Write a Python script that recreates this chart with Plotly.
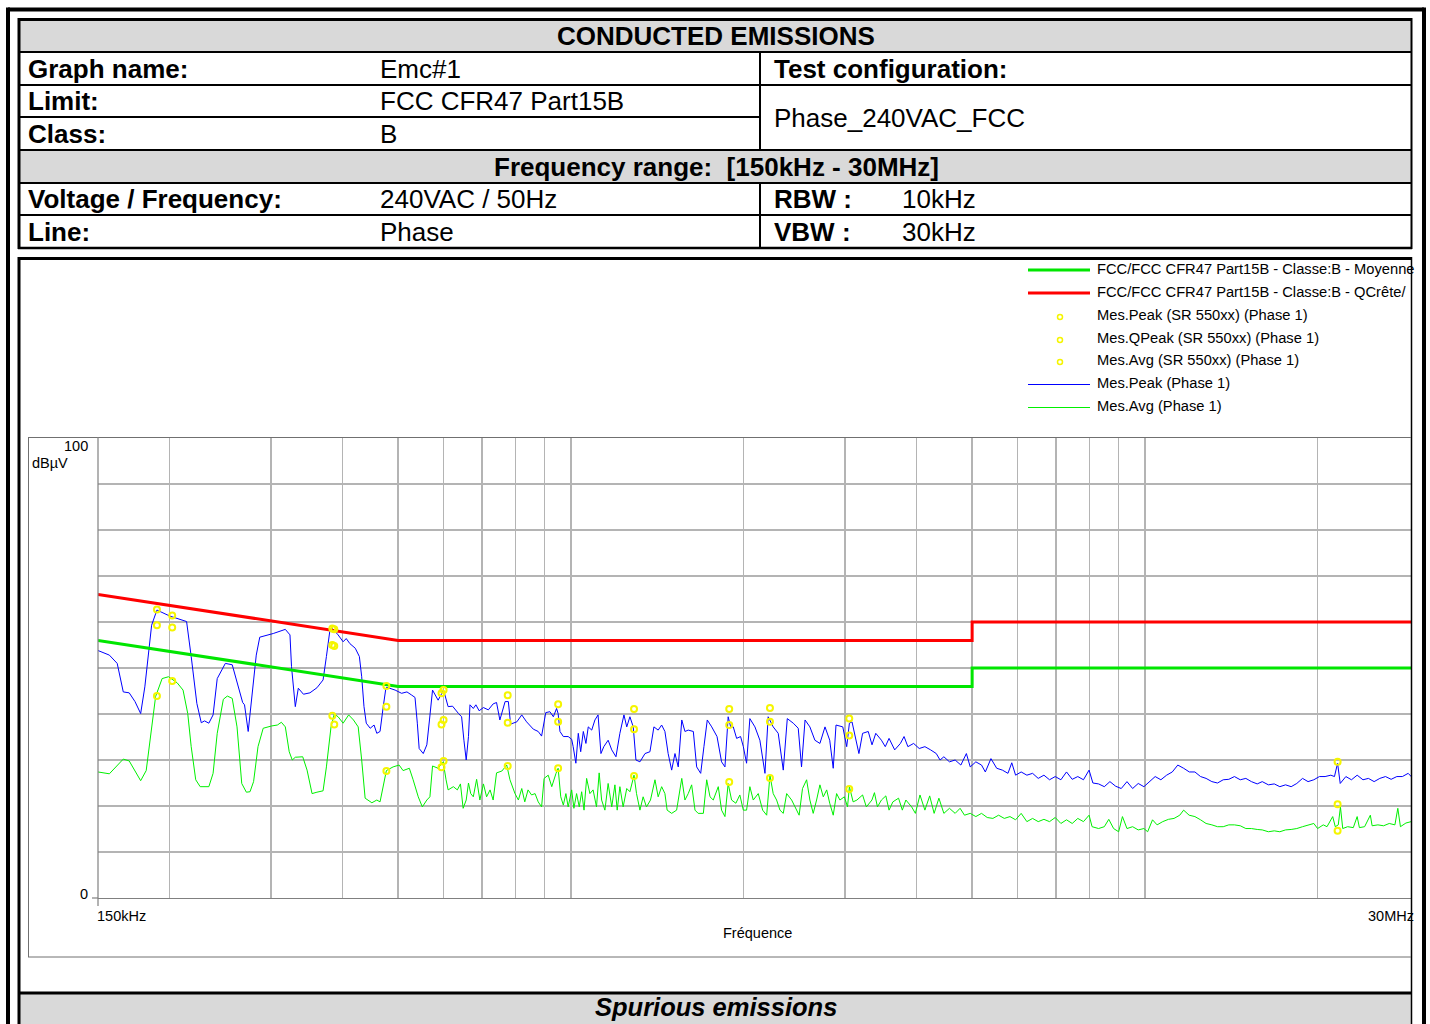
import math
import plotly.graph_objects as go

W, H = 1430, 1024

# ---------------- data ----------------
limit_freq_mhz = [0.15, 0.5, 5.0, 5.0, 30.0]
qp_limit_dbuv = [66, 56, 56, 60, 60]
avg_limit_dbuv = [56, 46, 46, 50, 50]

peak_freq_mhz = [0.150, 0.157, 0.162, 0.166, 0.170, 0.174, 0.178, 0.181, 0.186, 0.190, 0.200, 0.214, 0.218, 0.223, 0.227, 0.230, 0.234, 0.238, 0.242, 0.250,
                 0.257, 0.263, 0.268, 0.270, 0.274, 0.283, 0.287, 0.303, 0.318, 0.324, 0.326, 0.331, 0.335, 0.342, 0.351, 0.361, 0.370, 0.375, 0.380, 0.384,
                 0.393, 0.401, 0.406, 0.412, 0.421, 0.428, 0.432, 0.436, 0.440, 0.447, 0.454, 0.459, 0.465, 0.471, 0.476, 0.478, 0.494, 0.507, 0.518, 0.528,
                 0.535, 0.540, 0.544, 0.553, 0.561, 0.567, 0.574, 0.587, 0.600, 0.611, 0.622, 0.637, 0.645, 0.651, 0.657, 0.663, 0.667, 0.676, 0.683, 0.692,
                 0.704, 0.718, 0.732, 0.742, 0.752, 0.768, 0.778, 0.785, 0.805, 0.821, 0.837, 0.860, 0.877, 0.889, 0.904, 0.919, 0.932, 0.944, 0.950, 0.957,
                 0.970, 0.989, 1.003, 1.009, 1.020, 1.030, 1.040, 1.051, 1.062, 1.072, 1.087, 1.101, 1.115, 1.128, 1.141, 1.161, 1.178, 1.198, 1.217, 1.237,
                 1.251, 1.267, 1.284, 1.298, 1.319, 1.346, 1.373, 1.395, 1.419, 1.439, 1.458, 1.477, 1.498, 1.518, 1.538, 1.560, 1.580, 1.601, 1.634, 1.656,
                 1.683, 1.705, 1.728, 1.759, 1.797, 1.830, 1.855, 1.879, 1.898, 1.918, 1.944, 1.975, 1.997, 2.023, 2.050, 2.092, 2.134, 2.178, 2.206, 2.251,
                 2.297, 2.344, 2.382, 2.440, 2.489, 2.522, 2.558, 2.608, 2.661, 2.715, 2.771, 2.824, 2.864, 2.896, 2.976, 3.023, 3.056, 3.088, 3.125, 3.175,
                 3.222, 3.296, 3.346, 3.397, 3.475, 3.529, 3.583, 3.665, 3.750, 3.805, 3.864, 3.954, 4.044, 4.137, 4.233, 4.330, 4.396, 4.464, 4.565, 4.671,
                 4.779, 4.886, 4.962, 5.075, 5.192, 5.272, 5.392, 5.518, 5.645, 5.773, 5.862, 5.952, 6.087, 6.228, 6.372, 6.518, 6.669, 6.820, 6.978, 7.138,
                 7.301, 7.470, 7.639, 7.815, 7.993, 8.116, 8.304, 8.497, 8.690, 8.892, 9.094, 9.305, 9.519, 9.735, 9.960, 10.19, 10.42, 10.66, 10.91, 11.16,
                 11.41, 11.68, 11.95, 12.22, 12.50, 12.78, 13.08, 13.38, 13.69, 14.00, 14.32, 14.66, 14.99, 15.33, 15.69, 16.01, 16.41, 16.80, 17.18, 17.58,
                 17.98, 18.39, 18.82, 19.24, 19.69, 20.14, 20.60, 21.08, 21.39, 21.66, 21.89, 22.39, 22.90, 23.43, 23.98, 24.51, 25.08, 25.66, 26.25, 26.85,
                 27.47, 28.09, 28.75, 29.31]
peak_dbuv = [53.8, 52.8, 51.0, 44.8, 44.6, 42.7, 40.1, 45.9, 59.3, 62.6, 61.3, 60.1, 52.5, 42.3, 38.1, 38.5, 38.0, 39.8, 47.7, 51.0,
             50.7, 45.9, 42.5, 42.0, 36.2, 52.8, 56.7, 57.5, 58.4, 57.2, 50.3, 41.6, 45.6, 44.3, 44.6, 45.7, 47.4, 52.5, 57.9, 58.6,
             57.2, 55.7, 56.4, 55.3, 54.3, 52.5, 48.1, 41.6, 38.0, 36.9, 37.6, 35.8, 36.2, 41.6, 45.6, 45.8, 45.2, 44.5, 44.8, 44.1,
             43.6, 38.0, 32.5, 31.4, 33.3, 38.7, 45.2, 43.0, 45.2, 41.6, 41.7, 40.1, 39.4, 34.3, 30.0, 35.1, 42.0, 41.2, 42.0, 40.7,
             41.4, 40.9, 42.2, 42.5, 38.7, 42.7, 42.7, 37.8, 38.3, 39.8, 38.3, 36.7, 36.2, 35.2, 40.3, 40.5, 39.4, 41.2, 40.1, 36.2,
             35.1, 35.1, 34.5, 32.9, 29.3, 35.8, 31.8, 36.2, 33.6, 37.2, 36.5, 38.7, 39.8, 31.4, 32.9, 34.3, 32.2, 30.7, 35.8, 39.8,
             37.2, 39.4, 37.2, 30.0, 29.6, 31.4, 31.8, 37.2, 36.5, 37.6, 36.2, 31.4, 27.8, 31.4, 28.5, 38.7, 36.2, 36.5, 36.2, 28.5,
             27.1, 32.9, 38.7, 37.2, 35.1, 29.6, 28.5, 39.4, 37.2, 37.2, 34.7, 35.1, 32.9, 29.3, 39.0, 37.2, 34.3, 27.1, 39.4, 37.2,
             35.8, 27.8, 39.0, 38.0, 36.9, 28.5, 38.7, 37.2, 34.3, 33.6, 37.2, 34.3, 28.2, 37.6, 37.2, 32.9, 38.0, 38.3, 35.1, 31.4,
             35.8, 36.2, 33.3, 35.8, 34.3, 32.9, 34.7, 32.2, 33.6, 35.1, 32.9, 33.6, 32.5, 32.9, 32.2, 31.4, 30.0, 30.7, 29.6, 30.0,
             28.9, 31.4, 28.5, 29.6, 28.9, 27.4, 30.3, 28.2, 27.8, 27.1, 29.4, 26.7, 27.4, 26.7, 27.1, 26.0, 26.7, 25.7, 26.4, 25.7,
             27.4, 25.8, 26.4, 25.7, 27.8, 25.0, 24.8, 24.2, 25.3, 24.3, 23.8, 25.3, 23.8, 24.9, 24.2, 25.3, 26.4, 25.7, 26.7, 27.4,
             28.9, 28.2, 27.4, 27.4, 26.4, 26.0, 25.3, 25.0, 25.7, 25.8, 26.4, 25.7, 26.0, 25.3, 24.8, 25.3, 24.6, 24.8, 24.2, 24.6,
             24.2, 24.9, 26.0, 25.3, 25.7, 26.4, 26.4, 26.7, 26.4, 29.3, 24.9, 26.4, 25.7, 26.7, 25.7, 26.0, 25.3, 26.0, 26.4, 25.8,
             26.4, 26.4, 27.1, 26.0]

avg_freq_mhz = [0.150, 0.157, 0.166, 0.170, 0.178, 0.182, 0.189, 0.194, 0.199, 0.206, 0.211, 0.215, 0.218, 0.222, 0.226, 0.234, 0.238, 0.242, 0.248, 0.252,
                0.257, 0.262, 0.267, 0.272, 0.276, 0.280, 0.285, 0.291, 0.301, 0.308, 0.313, 0.318, 0.323, 0.327, 0.331, 0.341, 0.347, 0.354, 0.361, 0.370,
                0.375, 0.382, 0.387, 0.393, 0.401, 0.410, 0.418, 0.426, 0.432, 0.438, 0.450, 0.459, 0.465, 0.471, 0.477, 0.490, 0.502, 0.510, 0.523, 0.531,
                0.542, 0.551, 0.561, 0.568, 0.574, 0.587, 0.599, 0.606, 0.611, 0.624, 0.634, 0.642, 0.649, 0.657, 0.663, 0.669, 0.676, 0.685, 0.694, 0.704,
                0.713, 0.723, 0.732, 0.742, 0.758, 0.773, 0.783, 0.799, 0.810, 0.821, 0.831, 0.842, 0.854, 0.866, 0.877, 0.889, 0.898, 0.913, 0.926, 0.942,
                0.950, 0.960, 0.970, 0.980, 0.989, 1.003, 1.012, 1.023, 1.034, 1.044, 1.054, 1.065, 1.079, 1.093, 1.108, 1.120, 1.131, 1.146, 1.161, 1.178,
                1.193, 1.204, 1.217, 1.233, 1.251, 1.267, 1.288, 1.301, 1.319, 1.336, 1.354, 1.376, 1.401, 1.419, 1.439, 1.458, 1.471, 1.498, 1.528, 1.560,
                1.580, 1.601, 1.623, 1.645, 1.666, 1.701, 1.724, 1.747, 1.770, 1.806, 1.830, 1.855, 1.879, 1.905, 1.938, 1.969, 1.997, 2.023, 2.050, 2.078,
                2.120, 2.158, 2.193, 2.222, 2.251, 2.282, 2.313, 2.344, 2.376, 2.424, 2.473, 2.498, 2.532, 2.574, 2.608, 2.643, 2.679, 2.715, 2.752, 2.790,
                2.824, 2.864, 2.903, 2.942, 2.995, 3.033, 3.056, 3.102, 3.150, 3.222, 3.271, 3.345, 3.379, 3.420, 3.475, 3.537, 3.583, 3.638, 3.722, 3.779,
                3.833, 3.923, 3.982, 4.056, 4.137, 4.217, 4.293, 4.376, 4.464, 4.565, 4.671, 4.764, 4.849, 4.962, 5.075, 5.192, 5.312, 5.434, 5.560, 5.689,
                5.820, 5.952, 6.087, 6.228, 6.372, 6.518, 6.669, 6.820, 6.978, 7.138, 7.301, 7.470, 7.639, 7.815, 7.993, 8.090, 8.304, 8.497, 8.650, 8.820,
                9.000, 9.138, 9.305, 9.519, 9.735, 9.960, 10.11, 10.31, 10.50, 10.74, 10.99, 11.24, 11.50, 11.68, 11.94, 12.22, 12.50, 12.78, 13.08, 13.38,
                13.69, 14.00, 14.32, 14.66, 14.99, 15.33, 15.69, 16.01, 16.41, 16.80, 17.18, 17.58, 17.98, 18.39, 18.82, 19.24, 19.69, 19.99, 20.45, 20.76,
                21.24, 21.46, 21.72, 21.91, 22.11, 22.55, 23.07, 23.43, 23.64, 24.14, 24.70, 24.88, 25.46, 26.05, 26.65, 27.26, 27.58, 27.87, 28.49, 29.10]
avg_dbuv = [27.4, 27.0, 30.2, 29.8, 25.5, 27.7, 43.8, 47.7, 48.1, 46.8, 45.2, 40.1, 32.9, 25.7, 24.2, 24.2, 27.1, 35.8, 43.2, 43.9,
            43.4, 37.2, 24.9, 23.0, 23.1, 25.3, 32.9, 36.9, 37.4, 37.6, 38.2, 37.2, 31.8, 30.0, 30.6, 30.7, 27.8, 22.7, 23.0, 23.3,
            28.5, 37.2, 40.0, 39.4, 38.0, 39.8, 38.7, 37.2, 30.0, 21.7, 20.7, 21.3, 20.9, 24.2, 27.7, 28.5, 28.9, 27.7, 28.2, 25.7,
            22.0, 19.8, 21.3, 22.0, 28.7, 28.2, 29.6, 25.7, 23.5, 24.2, 23.5, 24.8, 19.5, 21.3, 25.0, 22.7, 22.0, 25.8, 21.3, 24.8,
            22.0, 23.5, 21.3, 27.2, 27.6, 28.9, 25.7, 22.7, 21.3, 23.8, 20.9, 23.5, 22.4, 22.7, 20.9, 19.8, 26.0, 26.7, 24.2, 27.1,
            28.2, 22.0, 20.2, 22.7, 19.8, 23.5, 19.5, 22.7, 19.8, 23.1, 19.1, 26.0, 22.7, 23.5, 19.8, 27.2, 21.3, 19.1, 24.9, 19.8,
            24.6, 19.1, 24.2, 19.8, 23.8, 23.1, 26.7, 22.7, 19.1, 22.0, 19.8, 21.3, 25.7, 22.0, 24.2, 22.7, 19.1, 18.4, 19.1, 26.0,
            21.3, 22.7, 24.6, 19.1, 18.4, 18.4, 25.7, 22.0, 21.3, 24.2, 19.1, 17.7, 24.9, 21.3, 20.6, 22.4, 19.1, 19.1, 24.2, 21.3,
            22.7, 19.1, 18.0, 26.7, 22.7, 21.3, 19.1, 18.4, 22.7, 21.3, 19.1, 18.0, 23.8, 25.7, 21.3, 18.4, 21.3, 24.6, 22.0, 23.5,
            20.6, 18.0, 22.7, 21.3, 22.0, 19.8, 24.2, 20.9, 21.3, 22.4, 19.8, 21.3, 22.9, 19.8, 21.3, 22.2, 19.1, 20.9, 21.7, 19.1,
            21.3, 19.8, 18.4, 22.4, 19.1, 22.2, 18.4, 21.7, 18.4, 19.5, 18.4, 19.5, 18.0, 18.4, 17.7, 18.4, 17.5, 17.3, 18.0, 17.3,
            17.7, 17.0, 18.4, 16.6, 17.3, 16.6, 17.1, 16.6, 17.5, 16.2, 17.0, 16.2, 17.3, 16.6, 18.0, 15.5, 15.1, 15.5, 17.1, 15.1,
            14.4, 17.7, 15.1, 15.5, 14.8, 15.1, 14.4, 17.0, 15.9, 16.6, 17.1, 17.3, 18.0, 19.1, 18.0, 17.7, 17.0, 16.2, 15.9, 15.5,
            15.5, 15.9, 15.9, 15.7, 15.1, 15.1, 14.9, 14.8, 14.4, 14.6, 14.4, 14.8, 14.9, 15.1, 15.5, 15.9, 16.2, 15.1, 15.9, 15.5,
            17.7, 15.5, 15.9, 19.8, 15.1, 15.5, 15.3, 17.7, 15.3, 15.5, 18.0, 15.7, 15.9, 15.7, 16.2, 15.9, 19.5, 15.5, 16.3, 16.6]

mk_freq_mhz = [0.190, 0.202, 0.384, 0.387, 0.477, 0.595, 0.600, 0.776, 0.950, 1.288, 1.887, 2.222, 3.054, 21.66]
mk_peak_dbuv = [62.7, 61.4, 58.6, 58.4, 46.1, 44.5, 45.2, 44.1, 42.1, 41.1, 41.1, 41.3, 39.0, 29.6]
mk_qpeak_dbuv = [59.3, 58.8, 55.0, 54.8, 41.6, 37.7, 38.7, 38.1, 38.3, 36.7, 37.6, 38.3, 35.3, 20.4]
mk_avg_dbuv = [43.9, 47.2, 39.6, 37.7, 27.6, 28.4, 29.8, 28.7, 28.2, 26.5, 25.2, 26.1, 23.7, 14.6]

x_grid_mhz = [0.2, 0.3, 0.4, 0.5, 0.6, 0.7, 0.8, 0.9, 1, 2, 3, 4, 5, 6, 7, 8, 9, 10, 20]
y_grid_dbuv = [10, 20, 30, 40, 50, 60, 70, 80, 90, 100]

legend_labels = ["FCC/FCC CFR47 Part15B - Classe:B - Moyenne",
                 "FCC/FCC CFR47 Part15B - Classe:B - QCrête/",
                 "Mes.Peak (SR 550xx) (Phase 1)",
                 "Mes.QPeak (SR 550xx) (Phase 1)",
                 "Mes.Avg (SR 550xx) (Phase 1)",
                 "Mes.Peak (Phase 1)",
                 "Mes.Avg (Phase 1)"]

# ---------------- styles ----------------
FONT = "Liberation Sans, Arial, sans-serif"
GRAY = "#d9d9d9"
LIM_GREEN = "#00e600"
TR_GREEN = "#00f000"
RED = "#ff0000"
BLUE = "#0000ff"
YEL = "#f5f500"


def X(p):
    return p / W


def Y(p):
    return 1 - p / H


shapes = []
annos = []


def rect(x0, y0, x1, y1, fill=None, lw=0, lc="black"):
    shapes.append(dict(type="rect", xref="paper", yref="paper", x0=X(x0), x1=X(x1), y0=Y(y1), y1=Y(y0),
                       fillcolor=fill if fill else "rgba(0,0,0,0)",
                       line=dict(width=lw, color=lc), layer="below"))


def line(x0, y0, x1, y1, lw=1, lc="black", layer="above"):
    shapes.append(dict(type="line", xref="paper", yref="paper", x0=X(x0), x1=X(x1), y0=Y(y0), y1=Y(y1),
                       line=dict(width=lw, color=lc), layer=layer))


def text(x, y, s, size=26, anchor="left", color="black"):
    # left-anchored annotations carry ~2-3 px of padding; compensate
    xx = x - 3 if anchor == "left" else (x + 2 if anchor == "right" else x)
    annos.append(dict(xref="paper", yref="paper", x=X(xx), y=Y(y), text=s, showarrow=False,
                      xanchor=anchor, yanchor="middle", font=dict(family=FONT, size=size, color=color)))


# gray bands
rect(20, 20, 1411, 52, fill=GRAY)
rect(20, 150, 1411, 183, fill=GRAY)
rect(20, 994, 1411, 1040, fill=GRAY)

# table lines
for yy, xa, xb in [(52, 19, 1412), (85, 19, 1412), (117, 19, 760), (150, 19, 1412), (183, 19, 1412), (215, 19, 1412)]:
    line(xa, yy, xb, yy, lw=2)
line(760, 52, 760, 150, lw=2)
line(760, 183, 760, 248, lw=2)
line(18, 19.5, 1412, 19.5, lw=3)
line(18, 248, 1412, 248, lw=2.5)
line(19, 18, 19, 249, lw=3)
line(1411.5, 18, 1411.5, 249, lw=2)

# outer frame
line(8, 9.5, 1424, 9.5, lw=4)
line(8, 7.5, 8, 1030, lw=4)
line(1424, 7.5, 1424, 1030, lw=4)

# chart box
line(18, 258.5, 1412, 258.5, lw=3)
line(19, 257, 19, 1030, lw=3)
line(1411.5, 257, 1411.5, 1030, lw=1.5)
line(18, 993, 1412, 993, lw=3)

# inner plot frame
line(28, 437.5, 1411, 437.5, lw=1, lc="#707070")
line(28.5, 437, 28.5, 957, lw=1, lc="#707070")
line(28, 957, 1411, 957, lw=1, lc="#707070")
# y axis line and ticks
line(98, 437, 98, 906, lw=1.2, lc="#808080")
line(92, 898, 98, 898, lw=1.2, lc="#808080")

# table text
text(716, 36, "<b>CONDUCTED EMISSIONS</b>", anchor="center")
text(29, 69, "<b>Graph name:</b>")
text(381, 69, "Emc#1")
text(775, 69, "<b>Test configuration:</b>")
text(29, 101, "<b>Limit:</b>")
text(381, 101, "FCC CFR47 Part15B")
text(775, 118, "Phase_240VAC_FCC")
text(29, 134, "<b>Class:</b>")
text(381, 134, "B")
text(716, 167, "<b>Frequency range:  [150kHz - 30MHz]</b>", anchor="center")
text(29, 199, "<b>Voltage / Frequency:</b>")
text(381, 199, "240VAC / 50Hz")
text(775, 199, "<b>RBW :</b>")
text(903, 199, "10kHz")
text(29, 232, "<b>Line:</b>")
text(381, 232, "Phase")
text(775, 232, "<b>VBW :</b>")
text(903, 232, "30kHz")
text(716, 1007, "<b><i>Spurious emissions</i></b>", size=25.5, anchor="center")

# axis texts
text(88, 446, "100", size=14.5, anchor="right")
text(33, 463, "dBµV", size=14.5)
text(88, 894, "0", size=14.5, anchor="right")
text(98, 916, "150kHz", size=14.5)
text(1369, 916, "30MHz", size=14.5)
text(757, 933, "Fréquence", size=14.5, anchor="center")

# legend
leg_y = [269, 292, 315, 338, 360, 383, 406]
line(1028, 270, 1090, 270, lw=3, lc=LIM_GREEN)
line(1028, 293, 1090, 293, lw=3, lc=RED)
for yy in (317, 340, 362):
    shapes.append(dict(type="circle", xref="paper", yref="paper", x0=X(1057.5), x1=X(1062.5),
                       y0=Y(yy + 2.5), y1=Y(yy - 2.5), line=dict(width=1.5, color=YEL)))
line(1028, 384.5, 1090, 384.5, lw=1, lc=BLUE)
line(1028, 407.5, 1090, 407.5, lw=1, lc=TR_GREEN)
for yy, lab in zip(leg_y, legend_labels):
    text(1098, yy, lab, size=14.7)

# ---------------- traces ----------------
fig = go.Figure()
fig.add_trace(go.Scatter(x=avg_freq_mhz, y=avg_dbuv, mode="lines", line=dict(color=TR_GREEN, width=1)))
fig.add_trace(go.Scatter(x=peak_freq_mhz, y=peak_dbuv, mode="lines", line=dict(color=BLUE, width=1)))
fig.add_trace(go.Scatter(x=limit_freq_mhz, y=avg_limit_dbuv, mode="lines", line=dict(color=LIM_GREEN, width=3)))
fig.add_trace(go.Scatter(x=limit_freq_mhz, y=qp_limit_dbuv, mode="lines", line=dict(color=RED, width=3)))
for vals in (mk_peak_dbuv, mk_qpeak_dbuv, mk_avg_dbuv):
    fig.add_trace(go.Scatter(x=mk_freq_mhz, y=vals, mode="markers",
                             marker=dict(symbol="circle-open", size=6, color=YEL, line=dict(width=2, color=YEL))))

x0 = math.log10(0.15)
x1 = x0 + (1411 - 98) / 574.0

fig.update_layout(
    width=W, height=H, autosize=False,
    margin=dict(l=0, r=0, t=0, b=0, pad=0),
    paper_bgcolor="white", plot_bgcolor="white",
    showlegend=False, hovermode=False,
    shapes=shapes, annotations=annos,
    xaxis=dict(type="log", range=[x0, x1], domain=[98 / W, 1411 / W],
               tickvals=x_grid_mhz, showticklabels=False, ticks="",
               showgrid=True, gridcolor="#b4b4b4", gridwidth=1.5,
               showline=True, linecolor="#808080", linewidth=1.2, zeroline=False),
    yaxis=dict(range=[0, 100], domain=[1 - 898 / H, 1 - 438 / H],
               tickvals=y_grid_dbuv, showticklabels=False, ticks="",
               showgrid=True, gridcolor="#b4b4b4", gridwidth=1.5,
               showline=False, zeroline=False),
)

fig.write_html("out.html", config={"displayModeBar": False, "staticPlot": True},
               post_script="document.body.style.margin='0';")
